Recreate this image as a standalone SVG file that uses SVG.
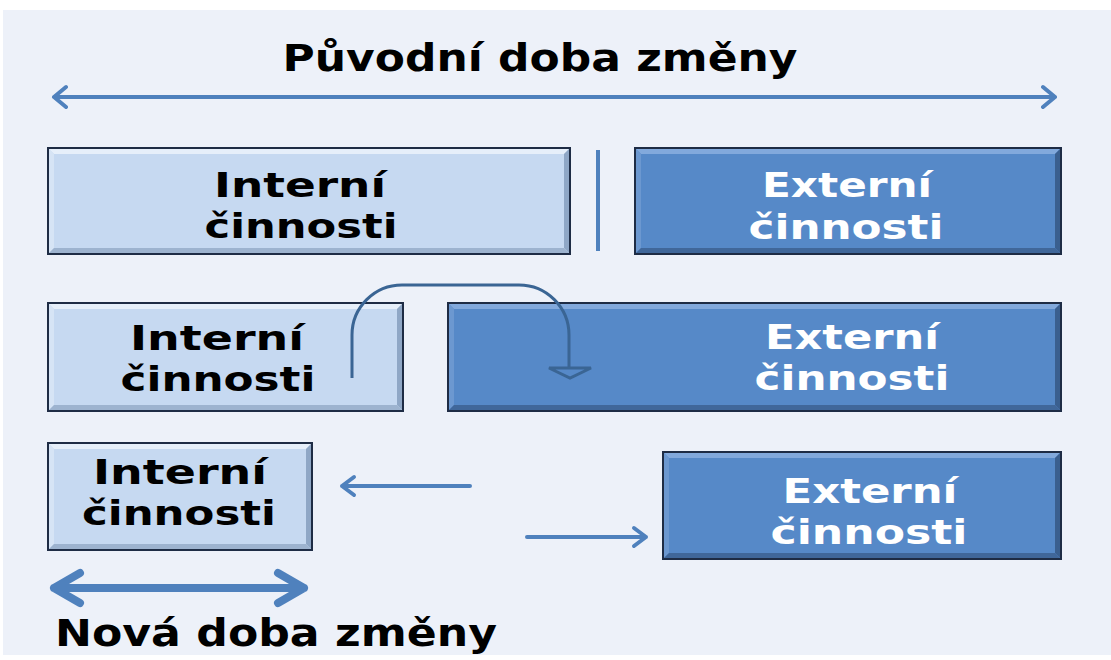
<svg xmlns="http://www.w3.org/2000/svg" width="1111" height="660" viewBox="0 0 1111 660">
<style>
.lbl{font-family:"DejaVu Sans","Verdana",sans-serif;font-weight:bold;font-size:34px;text-anchor:middle}
.dk{fill:#000}
.wt{fill:#fff}
.ttl{font-family:"DejaVu Sans","Verdana",sans-serif;font-weight:bold;font-size:37px;fill:#000}
.ar{fill:none;stroke:#4F81BD;stroke-width:4;stroke-linecap:round;stroke-linejoin:round}
.arb{fill:none;stroke:#4F81BD;stroke-width:8;stroke-linecap:round;stroke-linejoin:round}
.inF{fill:#C6D9F1}.inT{fill:#E6EFFA}.inL{fill:#D6E4F5}.inR{fill:#8FA7C6}.inB{fill:#9DB3CF}
.exF{fill:#5689C8}.exT{fill:#82A9DC}.exL{fill:#6C98D0}.exR{fill:#3A5F8F}.exB{fill:#40679A}
.bd{fill:none;stroke:#1E2C45;stroke-width:2}
</style>
<rect x="0" y="0" width="1111" height="660" fill="#fff"/>
<rect x="3" y="10" width="1108" height="645" fill="#EDF1F9"/>

<text class="ttl" x="540" y="71" text-anchor="middle" textLength="515" lengthAdjust="spacingAndGlyphs">Původní doba změny</text>

<g id="connectors">
  <path class="ar" d="M54,97 H1055 M66,87 L54,97 L66,107 M1043,87 L1055,97 L1043,107"/>
  <line x1="598" y1="150" x2="598" y2="251" stroke="#4F81BD" stroke-width="4"/>
  <path class="ar" d="M470,486 H342 M354,477 L342,486 L354,495"/>
  <path class="ar" d="M527,537 H646 M634,528 L646,537 L634,546"/>
  <path class="arb" d="M54,588 H304 M80,573 L54,588 L80,603 M278,573 L304,588 L278,603"/>
</g>

<g id="int1">
  <rect class="inF" x="48" y="148" width="522" height="106"/>
  <polygon class="inT" points="48,148 570,148 564,154 54,154"/>
  <polygon class="inL" points="48,148 54,154 54,248 48,254"/>
  <polygon class="inR" points="570,148 570,254 564,248 564,154"/>
  <polygon class="inB" points="48,254 570,254 564,248 54,248"/>
  <rect class="bd" x="48" y="148" width="522" height="106"/>
  <text class="lbl dk" x="300" y="197" textLength="172" lengthAdjust="spacingAndGlyphs">Interní</text>
  <text class="lbl dk" x="301" y="238" textLength="193" lengthAdjust="spacingAndGlyphs">činnosti</text>
</g>

<g id="ext1">
  <rect class="exF" x="635" y="148" width="426" height="106"/>
  <polygon class="exT" points="635,148 1061,148 1055,154 641,154"/>
  <polygon class="exL" points="635,148 641,154 641,248 635,254"/>
  <polygon class="exR" points="1061,148 1061,254 1055,248 1055,154"/>
  <polygon class="exB" points="635,254 1061,254 1055,248 641,248"/>
  <rect class="bd" x="635" y="148" width="426" height="106"/>
  <text class="lbl wt" x="847" y="197" textLength="170" lengthAdjust="spacingAndGlyphs">Externí</text>
  <text class="lbl wt" x="846" y="239" textLength="195" lengthAdjust="spacingAndGlyphs">činnosti</text>
</g>

<g id="int2">
  <rect class="inF" x="48" y="303" width="355" height="108"/>
  <polygon class="inT" points="48,303 403,303 397,309 54,309"/>
  <polygon class="inL" points="48,303 54,309 54,405 48,411"/>
  <polygon class="inR" points="403,303 403,411 397,405 397,309"/>
  <polygon class="inB" points="48,411 403,411 397,405 54,405"/>
  <rect class="bd" x="48" y="303" width="355" height="108"/>
  <text class="lbl dk" x="217" y="350" textLength="174" lengthAdjust="spacingAndGlyphs">Interní</text>
  <text class="lbl dk" x="218" y="391" textLength="195" lengthAdjust="spacingAndGlyphs">činnosti</text>
</g>

<g id="ext2">
  <rect class="exF" x="448" y="303" width="613" height="108"/>
  <polygon class="exT" points="448,303 1061,303 1055,309 454,309"/>
  <polygon class="exL" points="448,303 454,309 454,405 448,411"/>
  <polygon class="exR" points="1061,303 1061,411 1055,405 1055,309"/>
  <polygon class="exB" points="448,411 1061,411 1055,405 454,405"/>
  <rect class="bd" x="448" y="303" width="613" height="108"/>
  <text class="lbl wt" x="852" y="349" textLength="174" lengthAdjust="spacingAndGlyphs">Externí</text>
  <text class="lbl wt" x="852" y="390" textLength="195" lengthAdjust="spacingAndGlyphs">činnosti</text>
</g>

<g id="move-arrow">
  <path d="M352,378 V335 A50,50 0 0 1 402,285 H519 A50,50 0 0 1 569,335 V368" fill="none" stroke="#3A6594" stroke-width="3"/>
  <polygon points="549,368 591,368 570,378" fill="#5689C8" stroke="#3A6594" stroke-width="3" stroke-linejoin="miter"/>
</g>

<g id="int3">
  <rect class="inF" x="48" y="443" width="264" height="107"/>
  <polygon class="inT" points="48,443 312,443 306,449 54,449"/>
  <polygon class="inL" points="48,443 54,449 54,544 48,550"/>
  <polygon class="inR" points="312,443 312,550 306,544 306,449"/>
  <polygon class="inB" points="48,550 312,550 306,544 54,544"/>
  <rect class="bd" x="48" y="443" width="264" height="107"/>
  <text class="lbl dk" x="180" y="484" textLength="174" lengthAdjust="spacingAndGlyphs">Interní</text>
  <text class="lbl dk" x="179" y="525" textLength="194" lengthAdjust="spacingAndGlyphs">činnosti</text>
</g>

<g id="ext3">
  <rect class="exF" x="663" y="452" width="398" height="107"/>
  <polygon class="exT" points="663,452 1061,452 1055,458 669,458"/>
  <polygon class="exL" points="663,452 669,458 669,553 663,559"/>
  <polygon class="exR" points="1061,452 1061,559 1055,553 1055,458"/>
  <polygon class="exB" points="663,559 1061,559 1055,553 669,553"/>
  <rect class="bd" x="663" y="452" width="398" height="107"/>
  <text class="lbl wt" x="870" y="503" textLength="175" lengthAdjust="spacingAndGlyphs">Externí</text>
  <text class="lbl wt" x="869" y="544" textLength="197" lengthAdjust="spacingAndGlyphs">činnosti</text>
</g>

<text class="ttl" x="55" y="646" textLength="442" lengthAdjust="spacingAndGlyphs">Nová doba změny</text>
</svg>
